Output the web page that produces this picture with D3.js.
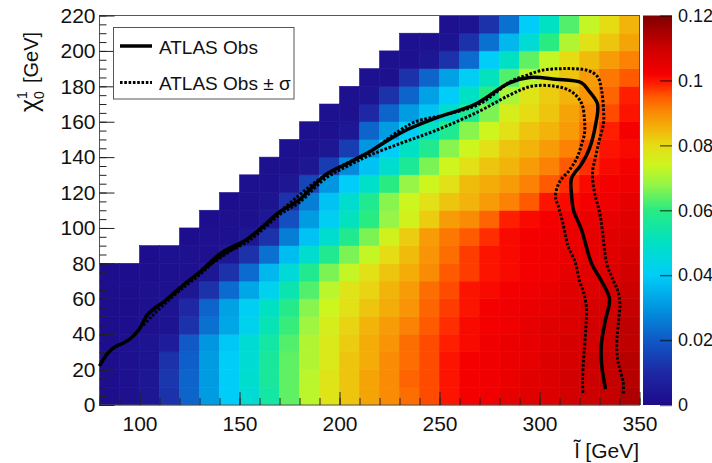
<!DOCTYPE html>
<html><head><meta charset="utf-8">
<script src="https://cdn.jsdelivr.net/npm/d3@7"></script>
<style>
body{margin:0;background:#fff;}
svg{display:block;font-family:"Liberation Sans",Arial,Helvetica,sans-serif;}
</style>
</head><body>
<svg id="chart" width="712" height="463"></svg>
<script>
const _ = null;
// bin lower edges (GeV)
const xBins = [80,90,100,110,120,130,140,150,160,170,180,190,200,210,220,230,240,250,260,270,280,290,300,310,320,330,340];
const yBins = [0,10,20,30,40,50,60,70,80,90,100,110,120,130,140,150,160,170,180,190,200,210];
const binW = 10, binH = 10;
// cell values, one row per y bin (bottom row first)
const zValues = [
 [0.001,0.002,0.004,0.012,0.022,0.031,0.040,0.047,0.055,0.064,0.072,0.078,0.083,0.087,0.090,0.093,0.096,0.100,0.102,0.103,0.105,0.106,0.107,0.109,0.110,0.111,0.114],
 [0.001,0.002,0.004,0.013,0.022,0.031,0.040,0.048,0.056,0.064,0.072,0.078,0.083,0.087,0.090,0.094,0.096,0.100,0.102,0.103,0.104,0.106,0.107,0.109,0.110,0.111,0.113],
 [0.001,0.002,0.003,0.012,0.021,0.031,0.040,0.047,0.056,0.064,0.071,0.077,0.083,0.086,0.090,0.093,0.096,0.100,0.102,0.103,0.104,0.105,0.107,0.108,0.110,0.111,0.113],
 [0.001,0.002,0.003,0.006,0.020,0.030,0.039,0.047,0.055,0.063,0.071,0.077,0.082,0.086,0.089,0.093,0.096,0.099,0.101,0.103,0.104,0.105,0.106,0.108,0.109,0.110,0.112],
 [0.001,0.001,0.002,0.003,0.012,0.024,0.033,0.042,0.052,0.061,0.069,0.076,0.081,0.085,0.088,0.091,0.095,0.098,0.101,0.102,0.103,0.105,0.106,0.107,0.109,0.110,0.112],
 [0.001,0.001,0.002,0.003,0.010,0.022,0.032,0.041,0.050,0.059,0.067,0.074,0.079,0.083,0.086,0.089,0.094,0.097,0.100,0.102,0.103,0.104,0.105,0.107,0.108,0.109,0.111],
 [0.001,0.001,0.002,0.002,0.004,0.012,0.023,0.033,0.042,0.053,0.063,0.072,0.078,0.081,0.085,0.088,0.093,0.096,0.100,0.101,0.102,0.103,0.104,0.106,0.107,0.108,0.110],
 [0.001,0.001,0.001,0.002,0.002,0.004,0.012,0.023,0.036,0.046,0.058,0.066,0.073,0.079,0.083,0.086,0.090,0.095,0.097,0.100,0.101,0.102,0.103,0.105,0.106,0.107,0.109],
 [_,_,0.001,0.002,0.002,0.002,0.004,0.012,0.024,0.037,0.048,0.058,0.066,0.073,0.080,0.084,0.089,0.093,0.097,0.100,0.101,0.102,0.103,0.104,0.105,0.106,0.108],
 [_,_,_,_,0.001,0.002,0.002,0.004,0.012,0.026,0.038,0.048,0.058,0.066,0.075,0.082,0.088,0.092,0.095,0.098,0.101,0.102,0.103,0.104,0.105,0.106,0.107],
 [_,_,_,_,_,0.001,0.002,0.002,0.004,0.018,0.031,0.041,0.051,0.060,0.068,0.075,0.082,0.088,0.090,0.094,0.099,0.101,0.102,0.103,0.104,0.105,0.106],
 [_,_,_,_,_,_,0.001,0.002,0.003,0.012,0.026,0.038,0.048,0.058,0.067,0.074,0.079,0.083,0.085,0.088,0.091,0.095,0.100,0.101,0.102,0.103,0.105],
 [_,_,_,_,_,_,_,0.002,0.002,0.004,0.016,0.030,0.040,0.049,0.060,0.068,0.074,0.079,0.084,0.086,0.088,0.091,0.095,0.098,0.101,0.102,0.103],
 [_,_,_,_,_,_,_,_,0.002,0.002,0.004,0.014,0.028,0.038,0.048,0.057,0.066,0.074,0.079,0.083,0.085,0.088,0.091,0.095,0.098,0.101,0.102],
 [_,_,_,_,_,_,_,_,_,0.002,0.002,0.004,0.014,0.030,0.040,0.050,0.058,0.067,0.074,0.079,0.083,0.085,0.088,0.091,0.096,0.100,0.101],
 [_,_,_,_,_,_,_,_,_,_,0.002,0.002,0.004,0.022,0.031,0.040,0.050,0.058,0.067,0.074,0.079,0.083,0.085,0.088,0.093,0.099,0.102],
 [_,_,_,_,_,_,_,_,_,_,_,0.002,0.002,0.010,0.022,0.031,0.038,0.048,0.057,0.066,0.076,0.080,0.083,0.087,0.091,0.096,0.100],
 [_,_,_,_,_,_,_,_,_,_,_,_,0.002,0.003,0.012,0.022,0.032,0.040,0.050,0.060,0.070,0.078,0.082,0.085,0.089,0.094,0.099],
 [_,_,_,_,_,_,_,_,_,_,_,_,_,0.002,0.002,0.012,0.022,0.032,0.041,0.051,0.063,0.072,0.079,0.083,0.088,0.092,0.095],
 [_,_,_,_,_,_,_,_,_,_,_,_,_,_,0.002,0.002,0.004,0.012,0.023,0.040,0.050,0.064,0.073,0.080,0.084,0.088,0.091],
 [_,_,_,_,_,_,_,_,_,_,_,_,_,_,_,0.002,0.002,0.003,0.012,0.024,0.036,0.047,0.060,0.071,0.079,0.083,0.087],
 [_,_,_,_,_,_,_,_,_,_,_,_,_,_,_,_,_,0.002,0.003,0.012,0.024,0.040,0.050,0.063,0.073,0.080,0.085]
];
// ATLAS observed contour
const obsX = [80,84,88,92,96,100,104,108,113,120,130,141,153,160,170,180,193,205,215,231,248,268,285,295,308,321,325,329,328,325,321,316,316,317,321,326,331,335,333,331,331,333];
const obsY = [22,29,33,35,38,43,51,55,59,66,75,86,93,99,109,116,130,137,143,154,162,170,182,185,184,182,177,170,158,145,136,128,119,110,99,80,70,60,48,35,24,9];
// +sigma contour
const upX = [100,104,113,130,153,170,193,215,230,238,253,270,286,293,301,312,324,329,331,332,332,330,328,326.5,327.5,330,331.5,333.6,337,339,340.2,339.4,338.6,339.4,341.9,341.9];
const upY = [43,51,59,75,93,109,130,143,155,160,164,170,183,186,189,190,189,185.5,178,167,159,150,140,131,120,109,98,80,70,65,57.5,46,33,23.6,12.3,6.6];
// -sigma contour
const dnX = [102,106,112,120,130,141,153,160,170,180,193,205,215,231,248,270,285,296,308,316,321,322.5,322.5,321,318.5,314.5,310,308,309.5,312,313.5,314.5,318,320,322.2,323.5,323.3,323,322.5,322,321.5,321.7];
const dnY = [45,50,56.5,64.5,73.5,84.5,91.5,97.5,107.5,114.5,128,135.5,141,148,155,166,175,180,180,177,170.5,161,153.5,147,139,132,126,118,112,101,93,89,80,70,63,54,46,40,33,25,14,6.6];
// ticks
const xTicks = [100,150,200,250,300,350];
const yTicks = [0,20,40,60,80,100,120,140,160,180,200,220];
const zTicks = [0,0.02,0.04,0.06,0.08,0.1,0.12];
const zTickLabels = ["0","0.02","0.04","0.06","0.08","0.1","0.12"];
// palette
const palStops = [0,0.01,0.02,0.03,0.04,0.05,0.06,0.068,0.074,0.08,0.085,0.09,0.095,0.099,0.102,0.11,0.12];
const palColors = ["#1d0b8a","#1e28a4","#1059c6","#0096e0","#00cdf8","#00e1c3","#28eb82","#96f546","#cdf51e","#e6dc14","#f2b40a","#fa8c05","#ff5a00","#ff1e00","#f50000","#cd0000","#800000"];

const svg = d3.select("#chart");
const L = 99.5, R = 639.5, T = 15.5, B = 405;
const x = d3.scaleLinear().domain([80,350]).range([L,R]);
const y = d3.scaleLinear().domain([0,220]).range([B,T]);
const z = d3.scaleLinear().domain([0,0.12]).range([B,T]);
const color = d3.scaleLinear().domain(palStops).range(palColors).interpolate(d3.interpolateRgb).clamp(true);

// cells
const cells = [];
zValues.forEach((row,ri)=>row.forEach((v,ci)=>{ if(v!==null) cells.push({x0:xBins[ci],y0:yBins[ri],v}); }));
svg.append("g").selectAll("rect").data(cells).join("rect")
  .attr("x",d=>x(d.x0)).attr("y",d=>y(d.y0+binH))
  .attr("width",d=>x(d.x0+binW)-x(d.x0)).attr("height",d=>y(d.y0)-y(d.y0+binH))
  .attr("fill",d=>color(d.v)).attr("stroke",d=>color(d.v)).attr("stroke-width",0.6);

// frame
svg.append("rect").attr("x",L).attr("y",T).attr("width",R-L).attr("height",B-T)
  .attr("fill","none").attr("stroke","#555").attr("stroke-width",1);

// axes
function styleAxis(g){ g.select(".domain").remove(); g.selectAll(".tick line").attr("stroke","#222").attr("stroke-width",1); }
const xMinor = d3.range(80,351,10);
svg.append("g").attr("transform",`translate(0,${B})`)
  .call(d3.axisBottom(x).tickValues(xMinor).tickSize(-7).tickFormat(""))
  .call(styleAxis);
svg.append("g").attr("transform",`translate(0,${B})`)
  .call(d3.axisBottom(x).tickValues(xTicks).tickSize(-13).tickPadding(11).tickFormat(d3.format("d")))
  .call(styleAxis)
  .selectAll("text").attr("font-size",21).attr("fill","#111").attr("font-family","Liberation Sans, Arial, sans-serif");
const yMinor = d3.range(0,221,5);
svg.append("g").attr("transform",`translate(${L},0)`)
  .call(d3.axisLeft(y).tickValues(yMinor).tickSize(-7).tickFormat(""))
  .call(styleAxis);
svg.append("g").attr("transform",`translate(${L},0)`)
  .call(d3.axisLeft(y).tickValues(yTicks).tickSize(-15).tickPadding(4).tickFormat(d3.format("d")))
  .call(styleAxis)
  .selectAll("text").attr("font-size",21).attr("fill","#111").attr("font-family","Liberation Sans, Arial, sans-serif");

// colour bar
const defs = svg.append("defs");
const grad = defs.append("linearGradient").attr("id","pal").attr("x1",0).attr("y1",1).attr("x2",0).attr("y2",0);
grad.selectAll("stop").data(palStops).join("stop")
  .attr("offset",(d)=>d/0.12).attr("stop-color",(d,i)=>palColors[i]);
const cbL = 643, cbR = 672;
svg.append("rect").attr("x",cbL).attr("y",z(0.12)).attr("width",cbR-cbL).attr("height",z(0)-z(0.12)).attr("fill","url(#pal)");
svg.append("g").attr("transform",`translate(${cbR},0)`)
  .call(d3.axisRight(z).tickValues(zTicks).tickSize(-12).tickPadding(6).tickFormat((d,i)=>zTickLabels[i]))
  .call(g=>{ g.select(".domain").remove(); g.selectAll(".tick line").attr("stroke","#000").attr("stroke-opacity",0.55).attr("stroke-width",1.5); })
  .selectAll("text").attr("font-size",18).attr("fill","#111").attr("font-family","Liberation Sans, Arial, sans-serif");

// contours
const line = d3.line().x(d=>x(d[0])).y(d=>y(d[1])).curve(d3.curveCatmullRom.alpha(0.5));
const pts = (xs,ys)=>xs.map((v,i)=>[v,ys[i]]);
const plot = svg.append("g");
plot.append("path").attr("d",line(pts(upX,upY))).attr("fill","none").attr("stroke","#000").attr("stroke-width",3).attr("stroke-dasharray","2.6,1.7");
plot.append("path").attr("d",line(pts(dnX,dnY))).attr("fill","none").attr("stroke","#000").attr("stroke-width",3).attr("stroke-dasharray","2.6,1.7");
plot.append("path").attr("d",line(pts(obsX,obsY))).attr("fill","none").attr("stroke","#000").attr("stroke-width",3.5).attr("stroke-linejoin","round");

// legend
const lg = svg.append("g");
lg.append("rect").attr("x",113.5).attr("y",27.5).attr("width",180.5).attr("height",71.5).attr("fill","#fff").attr("stroke","#555").attr("stroke-width",1);
lg.append("line").attr("x1",120).attr("x2",152).attr("y1",46).attr("y2",46).attr("stroke","#000").attr("stroke-width",3.5);
lg.append("line").attr("x1",120).attr("x2",152).attr("y1",82.5).attr("y2",82.5).attr("stroke","#000").attr("stroke-width",3).attr("stroke-dasharray","2.6,1.7");
lg.append("text").attr("x",159).attr("y",53.5).attr("font-size",19).attr("fill","#111").text("ATLAS Obs");
lg.append("text").attr("x",159).attr("y",89.5).attr("font-size",19).attr("fill","#111").text("ATLAS Obs \u00b1 \u03c3");

// axis titles
svg.append("text").attr("x",639).attr("y",458).attr("text-anchor","end").attr("font-size",21).attr("fill","#111").text("l\u0303 [GeV]");
const yt = svg.append("g").attr("transform","translate(38,112) rotate(-90)").attr("fill","#111");
yt.append("text").attr("x",0).attr("y",0).attr("font-size",25).text("\u03c7");
yt.append("text").attr("x",13).attr("y",6).attr("font-size",14).text("0");
yt.append("text").attr("x",13).attr("y",-11).attr("font-size",14).text("1");
yt.append("text").attr("x",29).attr("y",0).attr("font-size",20).text("[GeV]");
</script>
</body></html>
